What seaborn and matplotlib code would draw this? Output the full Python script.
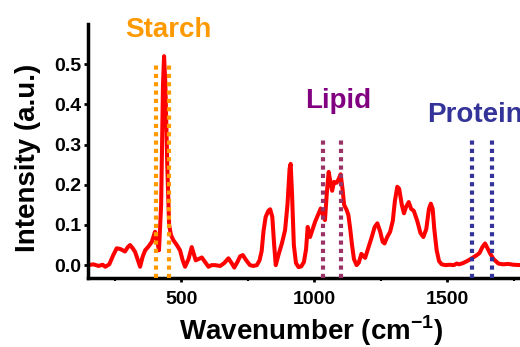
#!/usr/bin/env python3
# Raman spectrum with starch / lipid / protein marker bands

import pandas as pd
import matplotlib
matplotlib.use("Agg")
import matplotlib.pyplot as plt
from matplotlib.ticker import MultipleLocator
import seaborn as sns

# spectrum
wavenumber = [150, 170, 190, 205, 215, 230, 245, 258, 272, 289, 300, 308, 318, 327, 338, 346,
              355, 365, 377, 390, 402, 410, 417, 425, 432, 436, 441, 448, 455, 462, 471, 484,
              496, 506, 515, 528, 540, 547, 555, 565, 578, 590, 603, 615, 628, 647, 662, 678,
              690, 700, 712, 722, 732, 745, 759, 772, 785, 795, 803, 810, 818, 828, 835, 843,
              850, 856, 866, 879, 891, 900, 908, 912, 917, 924, 932, 942, 952, 962, 970, 976,
              985, 995, 1004, 1015, 1025, 1033, 1041, 1048, 1055, 1062, 1068, 1075, 1085, 1093,
              1100, 1107, 1113, 1122, 1129, 1136, 1142, 1150, 1160, 1168, 1178, 1186, 1192, 1205,
              1217, 1228, 1238, 1248, 1258, 1265, 1275, 1286, 1296, 1304, 1313, 1320, 1330, 1338,
              1346, 1356, 1365, 1375, 1388, 1400, 1411, 1422, 1432, 1439, 1446, 1452, 1461, 1470,
              1480, 1495, 1510, 1525, 1537, 1545, 1560, 1575, 1593, 1610, 1622, 1633, 1643, 1652,
              1662, 1675, 1693, 1710, 1730, 1750, 1774, 1800]
intensity = [0.0, 0.002, -0.002, 0.001, -0.004, 0.002, 0.025, 0.042, 0.040, 0.034, 0.045, 0.050,
             0.042, 0.033, 0.012, -0.004, 0.020, 0.037, 0.046, 0.058, 0.083, 0.060, 0.037, 0.15,
             0.45, 0.52, 0.45, 0.25, 0.10, 0.075, 0.062, 0.050, 0.037, 0.012, -0.004, 0.015,
             0.045, 0.030, 0.012, 0.015, 0.019, 0.008, -0.004, 0.0, 0.0, -0.002, 0.005, 0.017,
             0.005, -0.006, 0.008, 0.022, 0.025, 0.012, 0.0, -0.002, 0.0, 0.012, 0.035, 0.085,
             0.120, 0.135, 0.139, 0.12, 0.05, 0.0, 0.025, 0.054, 0.087, 0.15, 0.24, 0.252,
             0.18, 0.05, 0.005, -0.005, -0.003, 0.008, 0.04, 0.095, 0.07, 0.09, 0.108, 0.125,
             0.141, 0.125, 0.112, 0.18, 0.232, 0.205, 0.185, 0.207, 0.205, 0.215, 0.226, 0.19,
             0.150, 0.138, 0.125, 0.09, 0.054, 0.015, 0.0, 0.006, 0.028, 0.022, 0.018, 0.045,
             0.07, 0.095, 0.104, 0.085, 0.058, 0.054, 0.07, 0.083, 0.11, 0.16, 0.195, 0.19,
             0.15, 0.129, 0.145, 0.157, 0.140, 0.135, 0.11, 0.08, 0.07, 0.09, 0.14, 0.153,
             0.14, 0.09, 0.037, 0.01, 0.002, 0.0, 0.001, 0.0, 0.004, 0.002, 0.005, 0.01,
             0.017, 0.024, 0.03, 0.045, 0.054, 0.042, 0.029, 0.015, 0.004, 0.002, 0.003, 0.001,
             0.0, 0.0]

# marker bands
band_names = ["Starch", "Lipid", "Protein"]
band_lines = [[406, 455], [1032, 1103], [1594, 1669]]
band_tops = [0.497, 0.318, 0.318]
line_colors = ["#FF9900", "#993366", "#333399"]
text_colors = ["#FF9900", "#800080", "#333399"]

df = pd.DataFrame({"Wavenumber": wavenumber, "Intensity": intensity})

sns.set_style("ticks")
plt.rcParams["font.family"] = ["Liberation Sans", "DejaVu Sans"]
plt.rcParams["font.weight"] = "bold"
plt.rcParams["mathtext.fontset"] = "custom"
plt.rcParams["mathtext.rm"] = "Liberation Sans:bold"
plt.rcParams["mathtext.bf"] = "Liberation Sans:bold"
for key in ["text.color", "axes.labelcolor", "xtick.color", "ytick.color", "axes.edgecolor"]:
    plt.rcParams[key] = "black"

fig = plt.figure(figsize=(5.2, 3.47), dpi=100)
ax = fig.add_axes([88 / 520, 69 / 347, 446 / 520, 254 / 347])

sns.lineplot(data=df, x="Wavenumber", y="Intensity", color="red", lw=2.9, ax=ax, zorder=2)

for xs, top, c in zip(band_lines, band_tops, line_colors):
    ax.vlines(xs, -0.032, top, colors=c, lw=3, linestyles=(0, (1, 1)), zorder=3)

# band labels
ax.text(451, 0.567, band_names[0], color=text_colors[0], fontsize=20, fontweight="bold",
        ha="center", va="baseline")
ax.text(1092, 0.391, band_names[1], color=text_colors[1], fontsize=20, fontweight="bold",
        ha="center", va="baseline")
ax.text(1425, 0.356, band_names[2], color=text_colors[2], fontsize=20, fontweight="bold",
        ha="left", va="baseline", clip_on=False)

ax.set_xlim(150, 1827)
ax.set_ylim(-0.032, 0.6)
ax.set_xticks([500, 1000, 1500])
ax.xaxis.set_minor_locator(MultipleLocator(250))
ax.set_yticks([0.0, 0.1, 0.2, 0.3, 0.4, 0.5])
ax.set_yticklabels(["0.0", "0.1", "0.2", "0.3", "0.4", "0.5"])

sns.despine(ax=ax)
for s in ["left", "bottom"]:
    ax.spines[s].set_linewidth(2.5)
ax.tick_params(axis="both", which="major", labelsize=14, width=2, length=3, pad=2)
ax.tick_params(axis="x", which="major", pad=6)
ax.tick_params(axis="x", which="minor", width=1.5, length=2)
for lab in ax.get_xticklabels() + ax.get_yticklabels():
    lab.set_fontweight("bold")

ax.set_xlabel("Wavenumber (cm$^{\\mathbf{-1}}$)", fontsize=20, fontweight="bold")
ax.set_ylabel("Intensity (a.u.)", fontsize=20, fontweight="bold")
ax.xaxis.label.set_verticalalignment("baseline")
ax.xaxis.set_label_coords(0.5, -0.244)
ax.yaxis.label.set_verticalalignment("baseline")
ax.yaxis.set_label_coords(-0.119, 0.472)

plt.savefig("out.png", dpi=100)
